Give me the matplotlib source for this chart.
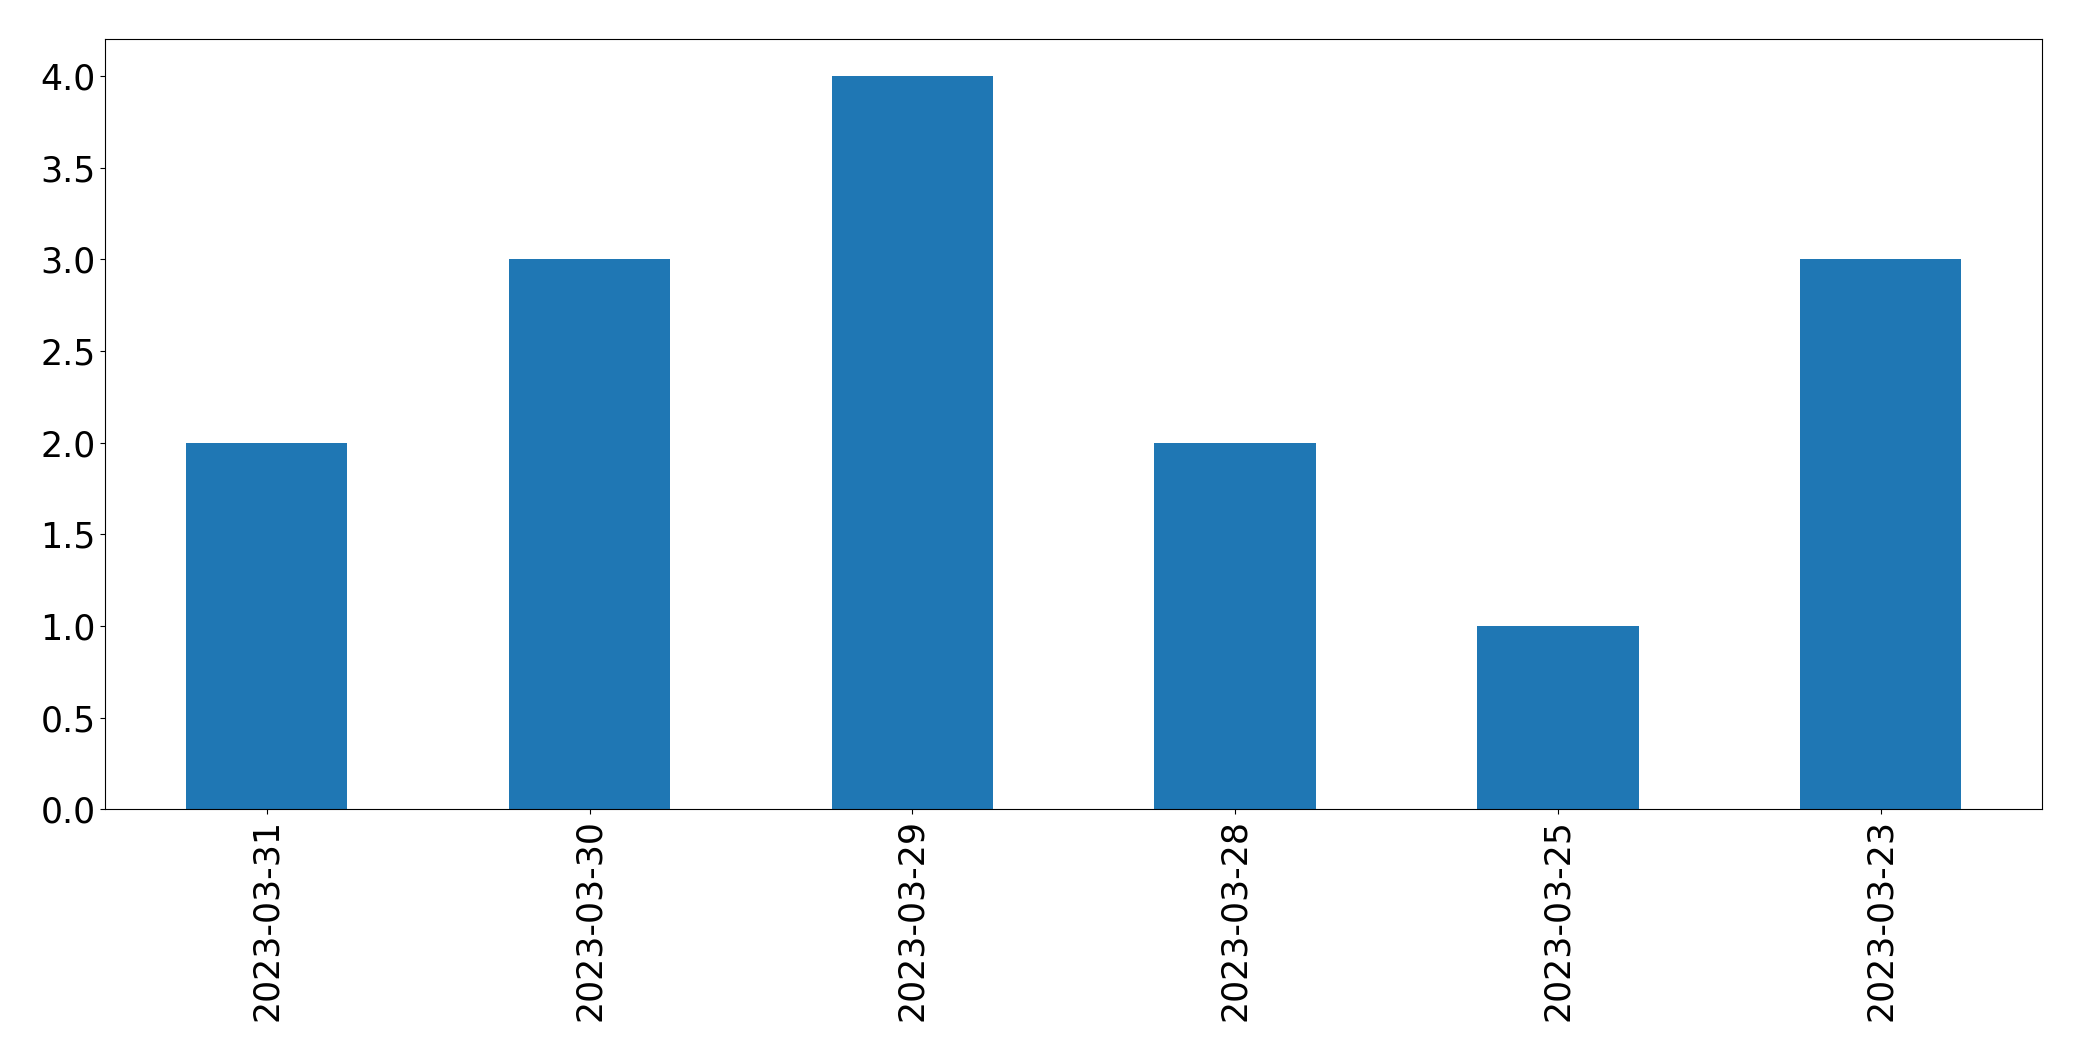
import matplotlib
matplotlib.use('Agg')
import matplotlib.pyplot as plt
import pandas as pd

# Dates (as shown, newest first) and counts per date
dates = ['2023-03-31', '2023-03-30', '2023-03-29', '2023-03-28', '2023-03-25', '2023-03-23']
counts = [2, 3, 4, 2, 1, 3]

series = pd.Series(counts, index=dates)

fig = plt.figure(figsize=(20.82, 10.61), dpi=100)
ax = fig.add_axes([0.0506, 0.2373, 0.9302, 0.7256])
series.plot(kind='bar', ax=ax, color='#1f77b4')

ax.tick_params(axis='both', which='major', labelsize=25)
ax.set_xlabel('')

plt.savefig('out.png', dpi=100)
plt.close()
